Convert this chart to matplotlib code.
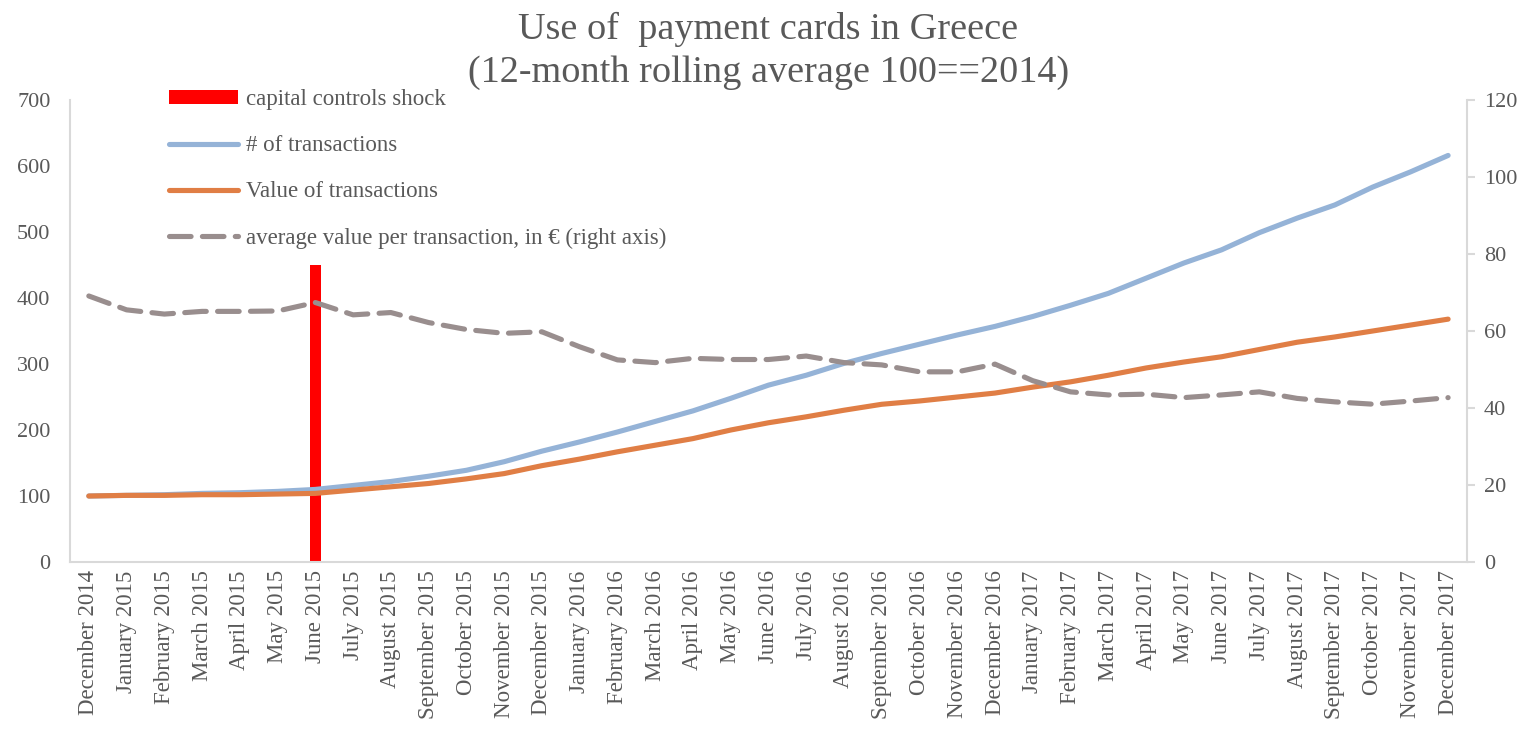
import matplotlib
matplotlib.use("Agg")
from matplotlib import pyplot as plt

months = ["December 2014", "January 2015", "February 2015", "March 2015", "April 2015",
          "May 2015", "June 2015", "July 2015", "August 2015", "September 2015",
          "October 2015", "November 2015", "December 2015", "January 2016",
          "February 2016", "March 2016", "April 2016", "May 2016", "June 2016",
          "July 2016", "August 2016", "September 2016", "October 2016",
          "November 2016", "December 2016", "January 2017", "February 2017",
          "March 2017", "April 2017", "May 2017", "June 2017", "July 2017",
          "August 2017", "September 2017", "October 2017", "November 2017",
          "December 2017"]

# index, 12-month rolling average (2014 = 100)
n_transactions = [100, 101, 102, 104, 105, 107, 110, 116, 122, 130, 139, 152, 168,
                  182, 197, 213, 229, 248, 268, 283, 301, 316, 330, 344, 357,
                  372, 389, 407, 430, 453, 473, 499, 521, 541, 568, 591, 616]
value_transactions = [100, 101, 101, 102, 102, 103, 104, 109, 114, 119, 126, 134, 146,
                      156, 167, 177, 187, 200, 211, 220, 230, 239, 244, 250, 256,
                      265, 273, 283, 294, 303, 311, 322, 333, 341, 350, 359, 368]
# euro per transaction, right axis
avg_value = [69.1, 65.5, 64.4, 65.1, 65.1, 65.2, 67.4, 64.2, 64.8, 62.2, 60.4, 59.4, 59.8,
             55.9, 52.5, 51.8, 52.9, 52.6, 52.6, 53.5, 51.8, 51.2, 49.4, 49.4, 51.4,
             47.1, 44.2, 43.4, 43.6, 42.7, 43.4, 44.2, 42.5, 41.6, 41.0, 41.8, 42.7]

shock_month = "June 2015"
shock_height = 450

grey = "#595959"
spine = "#D9D9D9"
plt.rcParams["font.family"] = ["Liberation Serif", "DejaVu Serif"]

fig = plt.figure(figsize=(15.27, 7.30), dpi=100)
ax = fig.add_axes([0.0458, 0.2301, 0.9149, 0.6329])
ax2 = ax.twinx()

x = list(range(len(months)))
shock_x = months.index(shock_month)

bar = ax.bar([shock_x], [shock_height], width=0.3, color="#FF0000", zorder=1)
l_n, = ax.plot(x, n_transactions, color="#95B3D7", lw=3.7, solid_capstyle="round", zorder=2)
l_v, = ax.plot(x, value_transactions, color="#E07E45", lw=3.7, solid_capstyle="round", zorder=3)
l_a, = ax2.plot(x, avg_value, color="#998E8E", lw=3.7, dashes=(4.2, 2.2),
                dash_capstyle="round")

ax.set_xlim(-0.5, len(months) - 0.5)
ax.set_ylim(0, 700)
ax.set_yticks(range(0, 701, 100))
ax2.set_ylim(0, 120)
ax2.set_yticks(range(0, 121, 20))

ax.set_xticks(x)
ax.set_xticklabels(months, rotation=90)

for a in (ax, ax2):
    a.spines["top"].set_visible(False)
    for s in a.spines.values():
        s.set_color(spine)
        s.set_linewidth(1.5)
ax.spines["right"].set_visible(False)
ax2.spines["left"].set_visible(False)
ax2.spines["bottom"].set_visible(False)

ax.tick_params(axis="y", length=0, pad=14, labelsize=16, labelcolor=grey)
ax.tick_params(axis="x", length=0, pad=6, labelsize=16.5, labelcolor=grey)
ax2.tick_params(axis="y", length=6, width=1.5, color=spine, pad=6, labelsize=16,
                labelcolor=grey)

leg = ax2.legend([bar, l_n, l_v, l_a],
                 ["capital controls shock", "# of transactions", "Value of transactions",
                  "average value per transaction, in \u20ac (right axis)"],
                 loc="upper left", bbox_to_anchor=(0.0709, 1.024),
                 borderaxespad=0, borderpad=0,
                 frameon=False, fontsize=16.5, labelspacing=1.1, handlelength=3.0,
                 handletextpad=0.35, handleheight=0.55)
for t in leg.get_texts():
    t.set_color(grey)

fig.text(0.503, 0.93, "Use of  payment cards in Greece\n(12-month rolling average 100==2014)",
         ha="center", va="center", fontsize=27.5, color=grey, linespacing=1.33)

fig.savefig("out.png", dpi=100)
